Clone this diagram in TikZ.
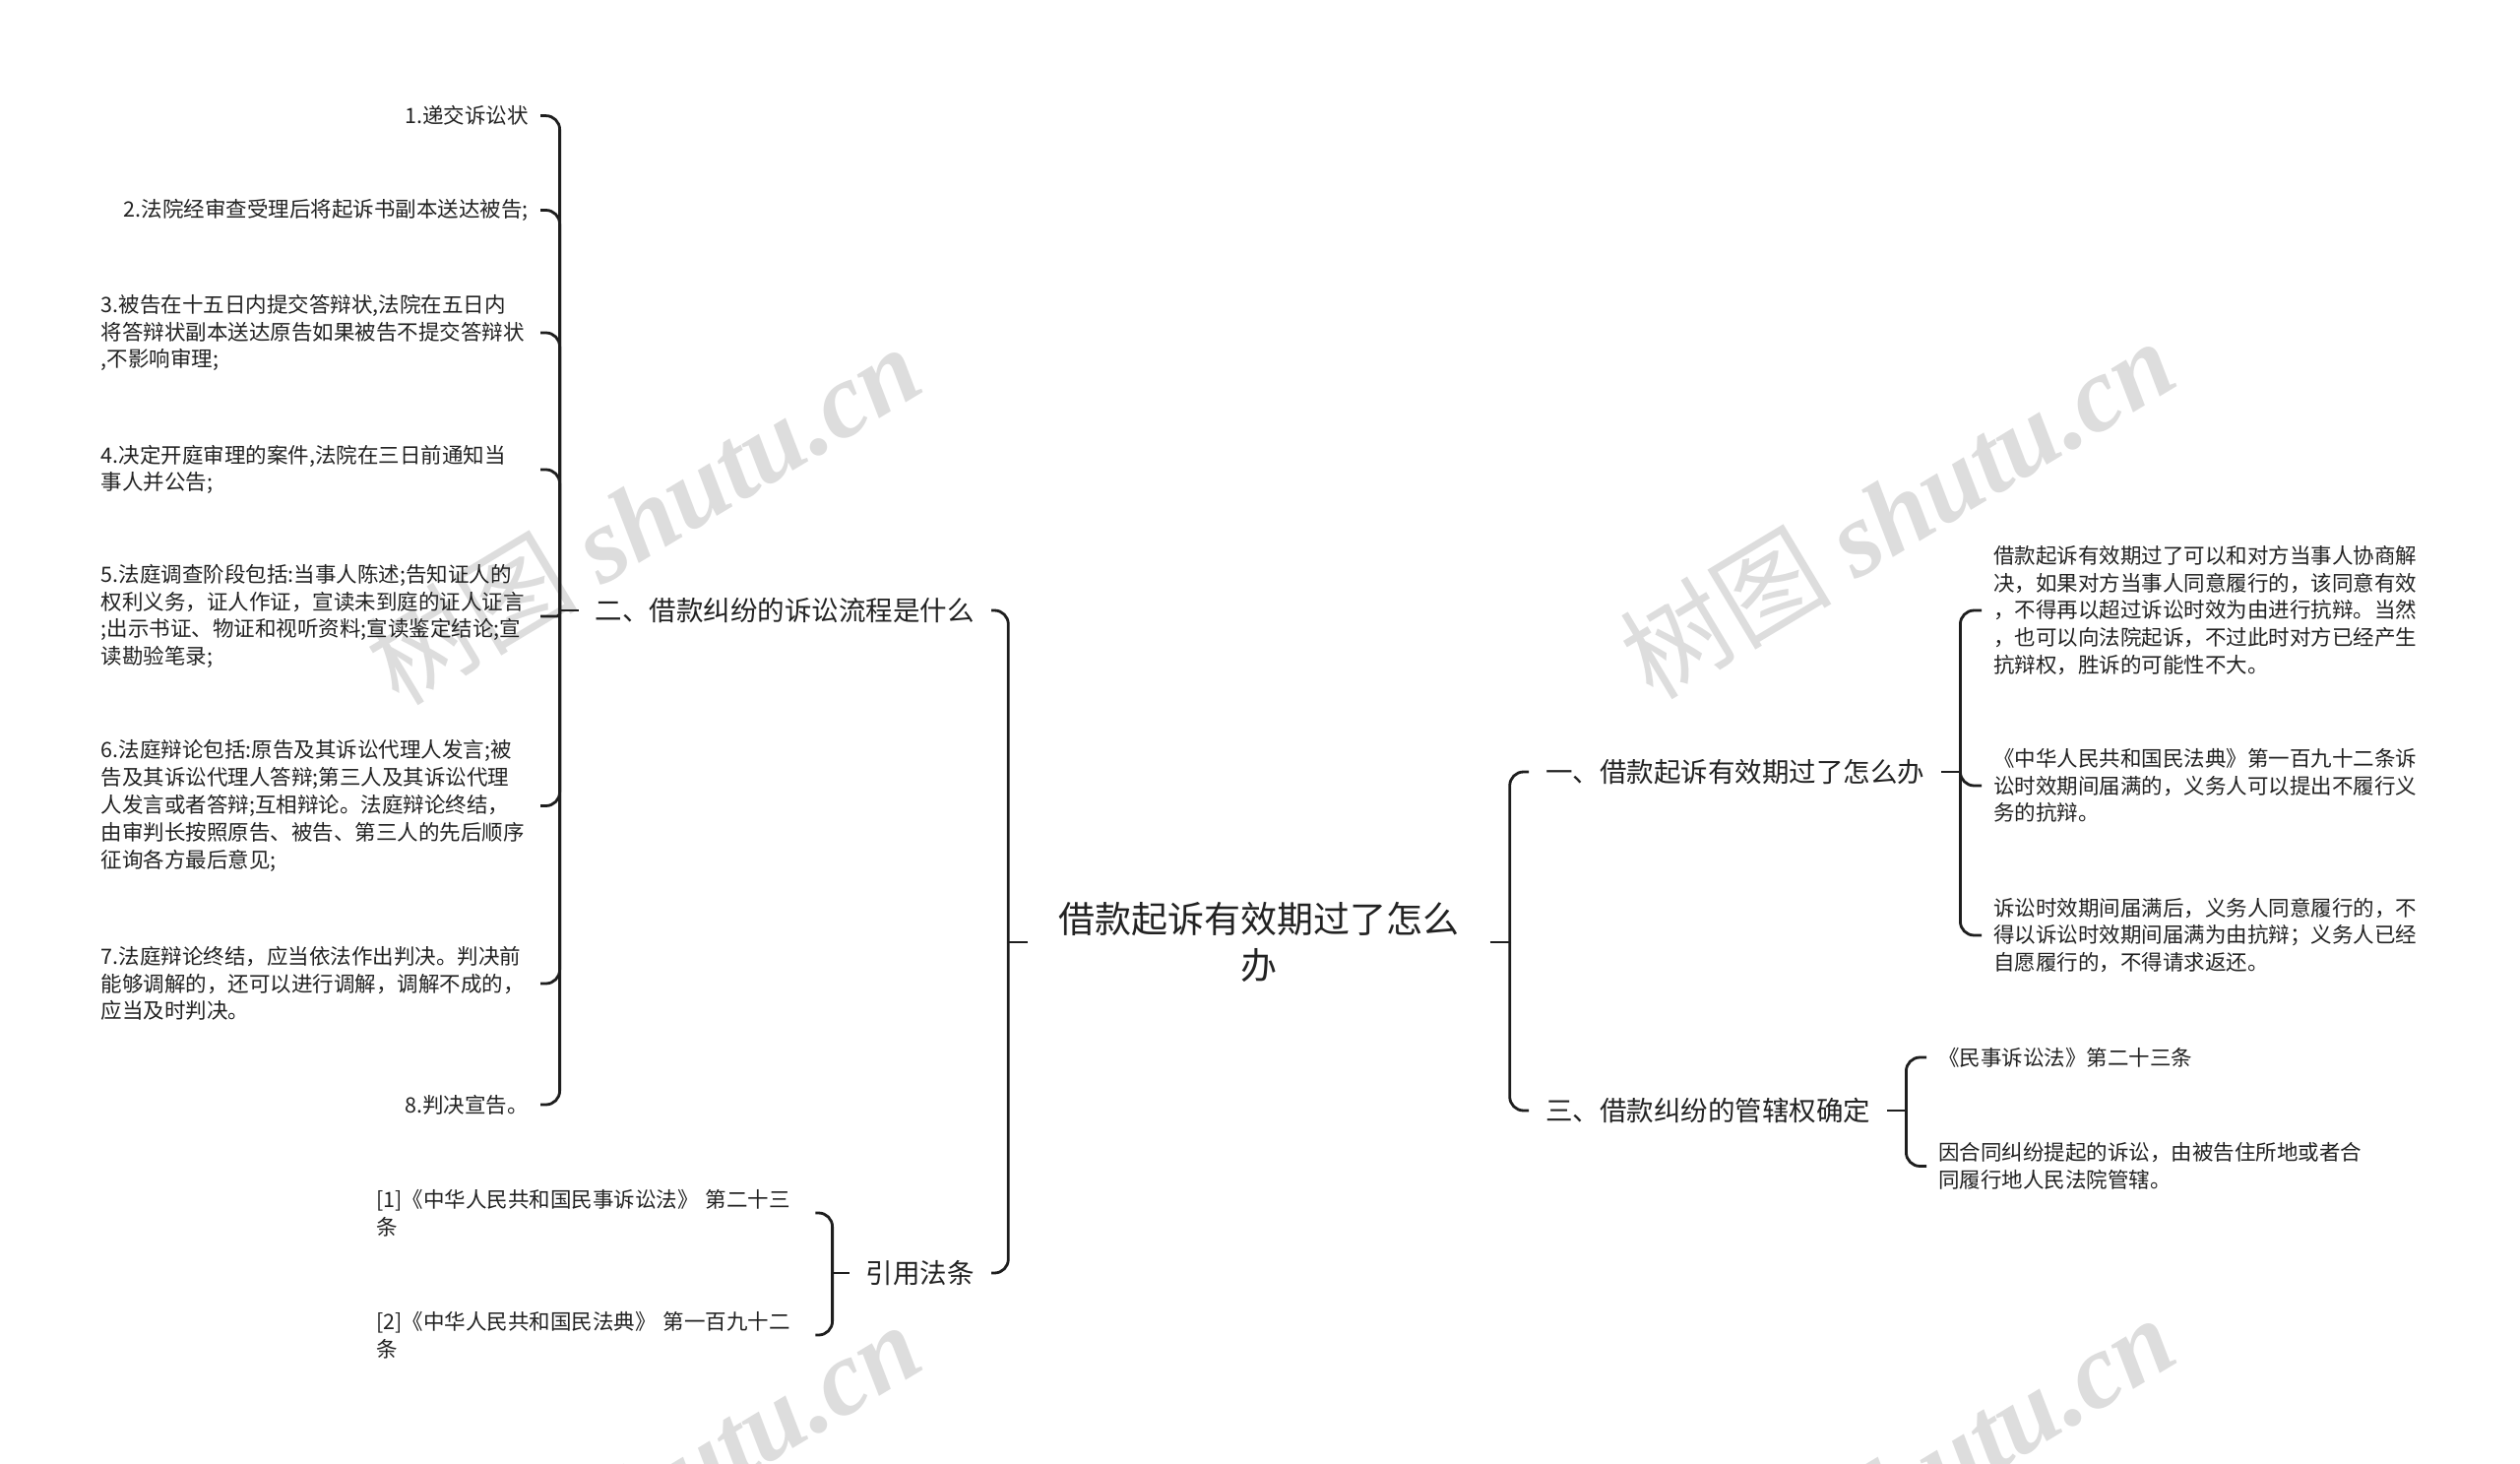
\documentclass[tikz,border=0pt]{standalone}
\usepackage{fontspec}
\setmainfont{Noto Sans CJK SC}
\newfontfamily\wmcjk{Noto Sans CJK SC}
\newfontfamily\wmlat{Liberation Serif}
\definecolor{txt}{RGB}{34,34,34}
\definecolor{ln}{RGB}{30,30,30}
\definecolor{wm}{RGB}{221,221,221}
\begin{document}
\begin{tikzpicture}[x=1pt,y=-1pt,
  conn/.style={draw=ln,line width=2.8pt,rounded corners=14pt},
  rootnode/.style={font=\fontsize{37}{47}\selectfont,align=center,inner xsep=31pt,inner ysep=4pt,text=txt},
  lvl/.style={font=\fontsize{27.5}{34}\selectfont,inner xsep=17pt,inner ysep=4pt,text=txt},
  leaf/.style={font=\fontsize{21.5}{27.8}\selectfont,align=left,inner xsep=12pt,inner ysep=3pt,text=txt},
  leafw/.style={leaf,text width=434pt},
  wmark/.style={text=wm,rotate=31,inner sep=0pt,font=\fontsize{108}{110}\selectfont}]

\useasboundingbox (0,0) rectangle (2560,1487);
\fill[white] (0,0) rectangle (2560,1487);

\begin{scope}
\clip (0,0) rectangle (2560,1487);
\node[wmark] (wm1) at (653,522) {\wmcjk 树图 \wmlat\bfseries\itshape shutu.cn};
\node[wmark] (wm2) at (1927,516) {\wmcjk 树图 \wmlat\bfseries\itshape shutu.cn};
\node[wmark] (wm3) at (653,1515) {\wmcjk 树图 \wmlat\bfseries\itshape shutu.cn};
\node[wmark] (wm4) at (1927,1508) {\wmcjk 树图 \wmlat\bfseries\itshape shutu.cn};
\end{scope}

% root
\node[rootnode] (root) at (1279,957) {借款起诉有效期过了怎么\\办};
\coordinate (rL) at ([xshift=-20pt]root.west);
\coordinate (rR) at ([xshift=20pt]root.east);

% level 1
\node[lvl,anchor=east] (n2) at (1007,620) {二、借款纠纷的诉讼流程是什么};
\node[lvl,anchor=east] (cite) at (1007,1293) {引用法条};
\node[lvl,anchor=west] (n1) at (1553,784) {一、借款起诉有效期过了怎么办};
\node[lvl,anchor=west] (n3) at (1553,1128) {三、借款纠纷的管辖权确定};

\coordinate (n2L) at ([xshift=-19pt]n2.west);
\coordinate (citeL) at ([xshift=-17pt]cite.west);
\coordinate (n1R) at ([xshift=19pt]n1.east);
\coordinate (n3R) at ([xshift=19pt]n3.east);

% children of n2
\node[leaf,anchor=east] (p1) at (549,117.6) {1.递交诉讼状};
\node[leaf,anchor=east] (p2) at (549,213.5) {2.法院经审查受理后将起诉书副本送达被告;};
\node[leafw,anchor=east] (p3) at (549,338) {3.被告在十五日内提交答辩状,法院在五日内\\将答辩状副本送达原告如果被告不提交答辩状\\,不影响审理;};
\node[leafw,anchor=east] (p4) at (549,477) {4.决定开庭审理的案件,法院在三日前通知当\\事人并公告;};
\node[leafw,anchor=east] (p5) at (549,626) {5.法庭调查阶段包括:当事人陈述;告知证人的\\权利义务，证人作证，宣读未到庭的证人证言\\;出示书证、物证和视听资料;宣读鉴定结论;宣\\读勘验笔录;};
\node[leafw,anchor=east] (p6) at (549,818.5) {6.法庭辩论包括:原告及其诉讼代理人发言;被\\告及其诉讼代理人答辩;第三人及其诉讼代理\\人发言或者答辩;互相辩论。法庭辩论终结，\\由审判长按照原告、被告、第三人的先后顺序\\征询各方最后意见;};
\node[leafw,anchor=east] (p7) at (549,999) {7.法庭辩论终结，应当依法作出判决。判决前\\能够调解的，还可以进行调解，调解不成的，\\应当及时判决。};
\node[leaf,anchor=east] (p8) at (549,1122) {8.判决宣告。};

% children of cite
\node[leafw,anchor=west] (c1) at (370,1232) {[1]《中华人民共和国民事诉讼法》 第二十三\\条};
\node[leafw,anchor=west] (c2) at (370,1356) {[2]《中华人民共和国民法典》 第一百九十二\\条};

% children of n1
\node[leaf,anchor=west] (a1) at (2013,620) {借款起诉有效期过了可以和对方当事人协商解\\决，如果对方当事人同意履行的，该同意有效\\，不得再以超过诉讼时效为由进行抗辩。当然\\，也可以向法院起诉，不过此时对方已经产生\\抗辩权，胜诉的可能性不大。};
\node[leaf,anchor=west] (a2) at (2013,798) {《中华人民共和国民法典》第一百九十二条诉\\讼时效期间届满的，义务人可以提出不履行义\\务的抗辩。};
\node[leaf,anchor=west] (a3) at (2013,950) {诉讼时效期间届满后，义务人同意履行的，不\\得以诉讼时效期间届满为由抗辩；义务人已经\\自愿履行的，不得请求返还。};

% children of n3
\node[leaf,anchor=west] (b1) at (1957,1074) {《民事诉讼法》第二十三条};
\node[leaf,anchor=west] (b2) at (1957,1184.5) {因合同纠纷提起的诉讼，由被告住所地或者合\\同履行地人民法院管辖。};

% connectors: root
\draw[conn] (root.west) -- (rL);
\draw[conn] (root.east) -- (rR);
\draw[conn] (rL) |- (n2.east);
\draw[conn] (rL) |- (cite.east);
\draw[conn] (rR) |- (n1.west);
\draw[conn] (rR) |- (n3.west);

% n2
\draw[conn] (n2.west) -- (n2L);
\foreach \c in {p1,p2,p3,p4,p6,p7,p8} \draw[conn] (n2L) |- (\c.east);
\draw[conn,rounded corners=3pt] (n2L) |- (p5.east);

% cite
\draw[conn] (cite.west) -- (citeL);
\foreach \c in {c1,c2} \draw[conn] (citeL) |- (\c.east);

% n1
\draw[conn] (n1.east) -- (n1R);
\foreach \c in {a1,a2,a3} \draw[conn] (n1R) |- (\c.west);

% n3
\draw[conn] (n3.east) -- (n3R);
\foreach \c in {b1,b2} \draw[conn] (n3R) |- (\c.west);
\end{tikzpicture}
\end{document}
